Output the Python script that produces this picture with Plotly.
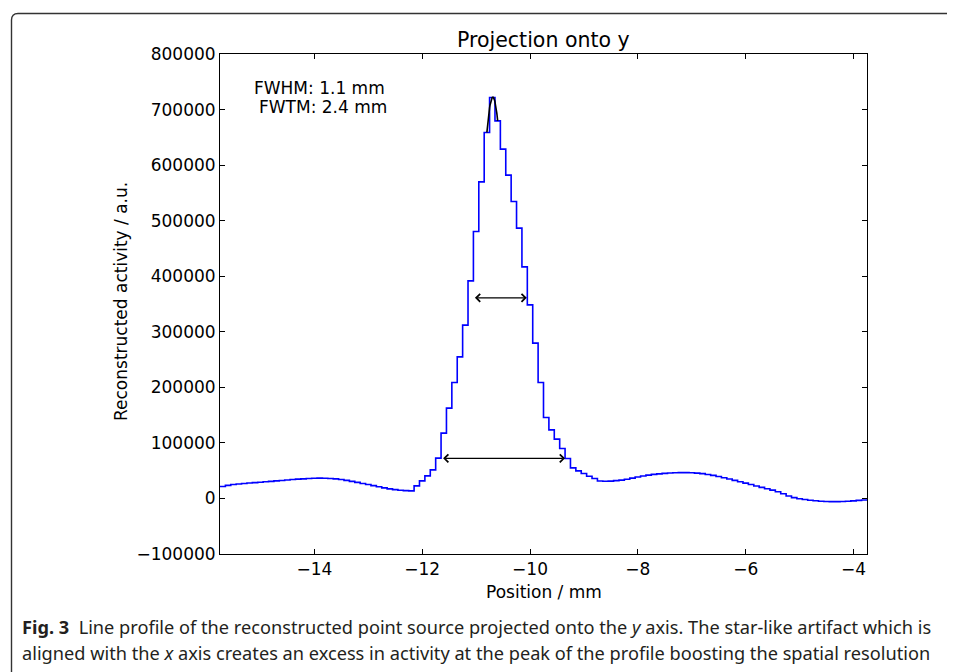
import numpy as np
import plotly.graph_objects as go

# ---------------- data ----------------
BIN_LEFT_MM = -15.75
BIN_WIDTH_MM = 0.1

# reconstructed activity per 0.1 mm bin (bins from -15.75 to -3.75 mm)
activity_tail_left = [
    21500, 23500, 25000, 26000, 27000, 27800, 28500, 29200, 30000, 30800,
    31600, 32400, 33200, 34000, 34700, 35300, 35900, 36300, 36500, 36400,
    36000, 35200, 34000, 32500, 30800, 29000, 27000, 25000, 23000, 21000,
    19000, 17200, 15800, 14800, 14000, 13600,
]
activity_peak = [
    22700, 31700, 40700, 51500, 72500, 117500, 162500, 208800, 254900, 312000,
    391700, 480600, 569900, 658800, 721800, 679700, 628700, 581900, 534600, 486500,
    416900, 348500, 279500, 208800, 145800, 123500, 106700, 90000, 72000, 55000,
    49700, 45000, 40000, 36000, 31500, 31000,
]
activity_tail_right = [
    31200, 32000, 33000, 34500, 36500, 38500, 40500, 42000, 43300, 44300,
    45200, 45900, 46300, 46500, 46500, 46200, 45600, 44600, 43200, 41500,
    39500, 37300, 35000, 32500, 30000, 27500, 25000, 22500, 20000, 17500,
    15000, 12000, 8500, 4500, 1500, -500, -2000, -3200, -4200, -5000,
    -5500, -5800, -5800, -5500, -5000, -4300, -3500, -2800,
]
activity = activity_tail_left + activity_peak + activity_tail_right

fwhm_edges_mm = [-11.05, -10.06]
fwtm_edges_mm = [-11.64, -9.35]
labels = ["FWHM: 1.1 mm", "FWTM: 2.4 mm"]

x_ticks = [-14, -12, -10, -8, -6, -4]
y_ticks = [-100000, 0, 100000, 200000, 300000, 400000, 500000, 600000, 700000, 800000]

# ---------------- derived ----------------
act = np.array(activity, dtype=float)
n = len(act)
edges = BIN_LEFT_MM + BIN_WIDTH_MM * np.arange(n + 1)
centers = edges[:-1] + BIN_WIDTH_MM / 2
step_y = np.append(act, act[-1])

# parabola through the three highest bins (peak estimate)
k = int(np.argmax(act))
xp = centers[k - 1:k + 2]
yp = act[k - 1:k + 2]
coef = np.polyfit(xp, yp, 2)
xfit = np.linspace(xp[0], xp[-1], 40)
yfit = np.polyval(coef, xfit)
peak = yfit.max()

FONT = "DejaVu Sans"

# page body has an 8px margin: figure is drawn 8px smaller and offset
PAGE_OFF = 8
W, H = 955 - PAGE_OFF, 672 - PAGE_OFF
PL, PR, PT, PB = 220, 867, 54, 554  # plot area in window pixels


def px2paper(px, py):
    return (px - PL) / (PR - PL), (PB - py) / (PB - PT)


fig = go.Figure()
fig.add_trace(go.Scatter(x=edges, y=step_y, mode="lines", line_shape="hv",
                         line=dict(color="#0000ff", width=1.6), showlegend=False,
                         hoverinfo="skip"))
fig.add_trace(go.Scatter(x=xfit, y=yfit, mode="lines",
                         line=dict(color="black", width=1.6), showlegend=False,
                         hoverinfo="skip"))

for (x0, x1), lev in [(fwhm_edges_mm, 0.5 * peak), (fwtm_edges_mm, 0.1 * peak)]:
    fig.add_annotation(x=x1, y=lev, ax=x0, ay=lev, xref="x", yref="y",
                       axref="x", ayref="y", text="", showarrow=True,
                       arrowhead=4, startarrowhead=4, arrowside="end+start",
                       arrowsize=1.3, startarrowsize=1.3, arrowwidth=1.2,
                       arrowcolor="black", standoff=0, startstandoff=0)


def text_at(px, py, txt, size, xanchor="left", angle=0, family=FONT, color="black"):
    x, y = px2paper(px, py)
    fig.add_annotation(x=x, y=y, xref="paper", yref="paper", text=txt,
                       showarrow=False, xanchor=xanchor, yanchor="middle",
                       textangle=angle,
                       font=dict(family=family, size=size, color=color))


text_at(251.7, 88.3, labels[0], 17)
text_at(256.7, 107.3, labels[1], 17)
text_at(543.5, 592, "Position / mm", 17, xanchor="center")
text_at(121, 302, "Reconstructed activity / a.u.", 17, xanchor="center", angle=-90)
text_at(543.5, 40, "Projection onto y", 20.5, xanchor="center")

# caption
CAP_FONT = "Noto Sans"
cap1 = ("<b>Fig. 3</b>  Line profile of the reconstructed point source projected onto the "
        "<i>y</i> axis. The star-like artifact which is")
cap2 = ("aligned with the <i>x</i> axis creates an excess in activity at the peak of the "
        "profile boosting the spatial resolution")
text_at(20, 627, cap1, 18.2, family=CAP_FONT, color="#231f20")
text_at(20, 653, cap2, 18.2, family=CAP_FONT, color="#231f20")

# figure frame (rounded corner at top-left)
xl, yb = px2paper(11.5, 700)
xr, yt = px2paper(970, 13.5)
_, yc = px2paper(11.5, 20)
xc2, _ = px2paper(18, 13.5)
fig.add_shape(type="path", xref="paper", yref="paper",
              path=f"M {xl},{yb} L {xl},{yc} Q {xl},{yt} {xc2},{yt} L {xr},{yt}",
              line=dict(color="#333333", width=1.4))

axis_common = dict(showline=True, mirror="allticks", linecolor="black", linewidth=1,
                   ticks="inside", ticklen=5, tickcolor="black", tickwidth=1,
                   showgrid=False, zeroline=False,
                   tickfont=dict(family=FONT, size=17, color="black"))
fig.update_xaxes(range=[edges[0], edges[-1]], tickvals=x_ticks,
                 ticktext=[str(v).replace("-", "\u2212") for v in x_ticks], **axis_common)
fig.update_yaxes(range=[-100000, 800000], tickvals=y_ticks,
                 ticktext=[str(v).replace("-", "\u2212") for v in y_ticks], **axis_common)

fig.update_layout(width=W, height=H,
                  margin=dict(l=PL - PAGE_OFF, r=955 - PR, t=PT - PAGE_OFF, b=672 - PB),
                  plot_bgcolor="white", paper_bgcolor="white",
                  font=dict(family=FONT, size=17, color="black"))

fig.write_html("out.html")
